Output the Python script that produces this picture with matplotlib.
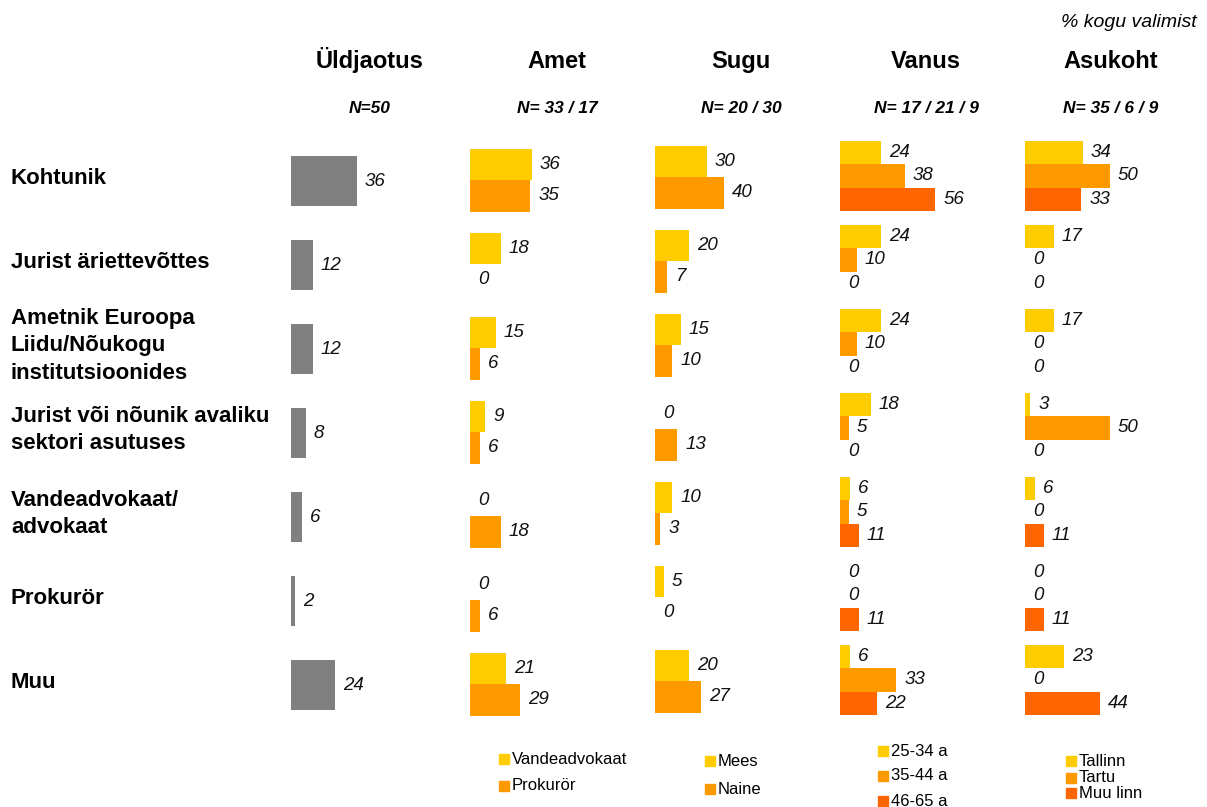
import numpy as np
import matplotlib
matplotlib.use("Agg")
import matplotlib.pyplot as plt

plt.rcParams['font.family'] = ['Liberation Sans', 'DejaVu Sans']

## Data
rows = ["Kohtunik", "Jurist äriettevõttes", "Ametnik Euroopa\nLiidu/Nõukogu\ninstitutsioonides",
        "Jurist või nõunik avaliku\nsektori asutuses", "Vandeadvokaat/\nadvokaat", "Prokurör", "Muu"]
total = [36, 12, 12, 8, 6, 2, 24]

amet_vandeadvokaat = [36, 18, 15, 9, 0, 0, 21]
amet_prokuror = [35, 0, 6, 6, 18, 6, 29]

sugu_mees = [30, 20, 15, 0, 10, 5, 20]
sugu_naine = [40, 7, 10, 13, 3, 0, 27]

vanus_25_34 = [24, 24, 24, 18, 6, 0, 6]
vanus_35_44 = [38, 10, 10, 5, 5, 0, 33]
vanus_46_65 = [56, 0, 0, 0, 11, 11, 22]

asukoht_tallinn = [34, 17, 17, 3, 6, 0, 23]
asukoht_tartu = [50, 0, 0, 50, 0, 0, 0]
asukoht_muu = [33, 0, 0, 0, 11, 11, 44]

headers = ["Üldjaotus", "Amet", "Sugu", "Vanus", "Asukoht"]
n_labels = ["N=50", "N= 33 / 17", "N= 20 / 30", "N= 17 / 21 / 9", "N= 35 / 6 / 9"]

YELLOW = "#FFCC00"
ORANGE = "#FF9900"
DARK = "#FF6600"
GREY = "#808080"

## Figure / pixel helpers
W, H = 1207, 807
fig = plt.figure(figsize=(W / 100, H / 100), dpi=100)

def fx(x):
    return x / W

def fy(y):
    return 1 - y / H

top_px, bot_px = 139, 727  # row area (7 rows x 84 px)
ROW = 84
y = np.arange(len(rows))

def panel(left, scale, series, colors, bar_h, shift_px=0):
    width = 160
    ax = fig.add_axes([fx(left), fy(bot_px), width / W, (bot_px - top_px) / H])
    ax.set_xlim(0, width / scale)
    ax.set_ylim(len(rows) - 0.5, -0.5)
    ax.axis("off")
    k = len(series)
    for j, (vals, c) in enumerate(zip(series, colors)):
        pos = y + (j - (k - 1) / 2) * bar_h - shift_px / ROW
        ax.barh(pos, vals, height=bar_h, color=c, linewidth=0)
        for p, v in zip(pos, vals):
            ax.annotate(str(v), (v, p), xytext=(8, 0), textcoords="offset pixels",
                        va="center", ha="left", fontsize=13.5, style="italic", color="#111111")
    return ax

panel(291, 1.83, [total], [GREY], 0.6)
panel(470, 1.72, [amet_vandeadvokaat, amet_prokuror], [YELLOW, ORANGE], 0.375, 1)
panel(655, 1.72, [sugu_mees, sugu_naine], [YELLOW, ORANGE], 0.375, 4)
panel(840, 1.70, [vanus_25_34, vanus_35_44, vanus_46_65], [YELLOW, ORANGE, DARK], 0.277, 5)
panel(1025, 1.70, [asukoht_tallinn, asukoht_tartu, asukoht_muu], [YELLOW, ORANGE, DARK], 0.28, 5)

## Row labels
for i, r in enumerate(rows):
    fig.text(fx(11), fy(181 + ROW * i - 3), r, ha="left", va="center", fontsize=16,
             fontweight="bold", linespacing=1.4)

## Headers
centers = [370, 557, 741, 926, 1111]
for cx, h, n in zip(centers, headers, n_labels):
    fig.text(fx(cx), fy(68), h, ha="center", va="baseline", fontsize=17, fontweight="bold")
    fig.text(fx(cx), fy(113), n, ha="center", va="baseline", fontsize=12.5,
             fontweight="bold", style="italic")

fig.text(fx(1197), fy(27), "% kogu valimist", ha="right", va="baseline", fontsize=14, style="italic")

## Legends
def legend(x, entries):
    for (label, c, yy) in entries:
        fig.patches.append(plt.Rectangle((fx(x), fy(yy + 5)), 10 / W, 10 / H, color=c,
                                         transform=fig.transFigure, figure=fig))
        fig.text(fx(x + 13), fy(yy), label, ha="left", va="center", fontsize=12)

legend(499, [("Vandeadvokaat", YELLOW, 759), ("Prokurör", ORANGE, 786)])
legend(705, [("Mees", YELLOW, 761), ("Naine", ORANGE, 789)])
legend(878, [("25-34 a", YELLOW, 751), ("35-44 a", ORANGE, 776), ("46-65 a", DARK, 801)])
legend(1066, [("Tallinn", YELLOW, 761), ("Tartu", ORANGE, 778), ("Muu linn", DARK, 793)])

fig.savefig("out.png", dpi=100)
